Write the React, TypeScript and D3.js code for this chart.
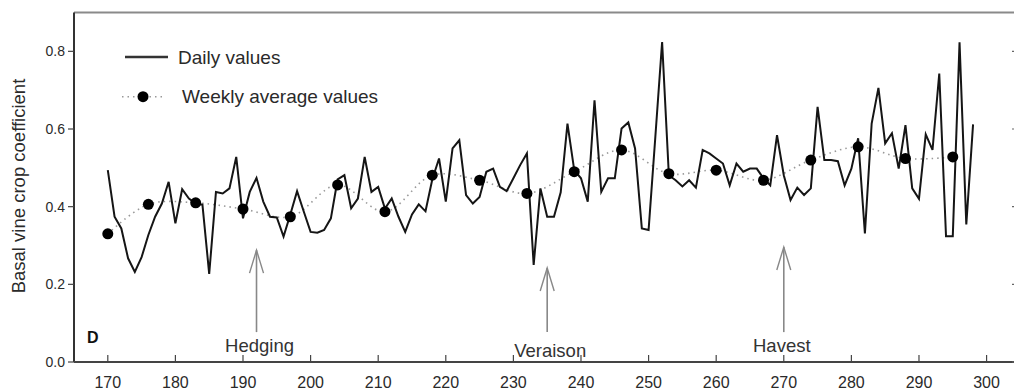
import React from "react";
import * as d3 from "d3";

const dailyStartDay = 170;
const dailyValues = [
  0.494, 0.374, 0.344, 0.267, 0.232, 0.27, 0.327, 0.374, 0.408, 0.464,
  0.357, 0.445, 0.421, 0.408, 0.405, 0.227, 0.438, 0.434, 0.447, 0.528,
  0.37, 0.438, 0.474, 0.413, 0.374, 0.372, 0.323, 0.38, 0.44, 0.387,
  0.335, 0.333, 0.34, 0.37, 0.47, 0.481, 0.396, 0.421, 0.528, 0.438,
  0.451, 0.395, 0.421, 0.374, 0.335, 0.38, 0.406, 0.388, 0.47, 0.524,
  0.413, 0.55, 0.571, 0.43, 0.408, 0.425, 0.49, 0.498, 0.451, 0.44,
  0.473, 0.507, 0.537, 0.25, 0.447, 0.374, 0.374, 0.437, 0.614, 0.494,
  0.473, 0.413, 0.674, 0.438, 0.473, 0.473, 0.601, 0.617, 0.55, 0.344,
  0.34, 0.58, 0.824, 0.481, 0.468, 0.452, 0.468, 0.449, 0.546, 0.537,
  0.524, 0.511, 0.455, 0.511, 0.49, 0.498, 0.498, 0.473, 0.455, 0.584,
  0.481, 0.417, 0.449, 0.43, 0.447, 0.657, 0.52, 0.52, 0.517, 0.455,
  0.498, 0.576, 0.331, 0.614, 0.706, 0.563, 0.589, 0.498, 0.61, 0.447,
  0.42, 0.586, 0.546, 0.743, 0.324, 0.324, 0.823, 0.354, 0.612,
];

const weeklyDays = [170, 176, 183, 190, 197, 204, 211, 218, 225, 232, 239, 246, 253, 260, 267, 274, 281, 288, 295];
const weeklyValues = [0.33, 0.406, 0.41, 0.394, 0.374, 0.456, 0.387, 0.481, 0.468, 0.434, 0.49, 0.546, 0.485, 0.494, 0.468, 0.52, 0.554, 0.524, 0.528];

const xTicks = [170, 180, 190, 200, 210, 220, 230, 240, 250, 260, 270, 280, 290, 300];
const yTicks = [0.0, 0.2, 0.4, 0.6, 0.8];

const eventLabels = ["Hedging", "Veraison", "Havest"];
const eventDays = [192, 235, 270];
const eventTips = [0.288, 0.242, 0.296];
const eventBase = 0.077;

const W = 1014;
const H = 392;
const left = 74;
const right = 1017;
const top = 12.5;
const bottom = 362;

export default function App() {
  const x = d3.scaleLinear().domain([165, 304.5]).range([left, right]);
  const y = d3.scaleLinear().domain([0, 0.9]).range([bottom, top]);

  const daily = dailyValues.map((v, i) => ({ d: dailyStartDay + i, v }));
  const weekly = weeklyDays.map((d, i) => ({ d, v: weeklyValues[i] }));

  const dailyLine = d3
    .line<{ d: number; v: number }>()
    .x((p) => x(p.d))
    .y((p) => y(p.v));
  const weeklyLine = d3
    .line<{ d: number; v: number }>()
    .x((p) => x(p.d))
    .y((p) => y(p.v))
    .curve(d3.curveCatmullRom);

  const font = "'Liberation Sans', Arial, Helvetica, sans-serif";
  const textColor = "#2a2a2a";

  return (
    <svg
      width={W}
      height={H}
      style={{ position: "absolute", left: 0, top: 0, background: "#fff" }}
      fontFamily={font}
    >
      <rect x={0} y={0} width={W} height={H} fill="#fff" />

      {/* frame */}
      <line x1={left} x2={W} y1={top} y2={top} stroke="#8a8a8a" strokeWidth={2.2} />
      <line x1={left} x2={left} y1={top} y2={bottom} stroke="#333" strokeWidth={2} />
      <line x1={left} x2={W} y1={bottom} y2={bottom} stroke="#444" strokeWidth={2} />
      <line x1={right} x2={right} y1={top} y2={bottom} stroke="#444" strokeWidth={2} />

      {/* y ticks */}
      {yTicks.map((t) => (
        <g key={"y" + t}>
          <line x1={left - 6} x2={left} y1={y(t)} y2={y(t)} stroke="#444" strokeWidth={1.2} />
          <line x1={right - 5} x2={right} y1={y(t)} y2={y(t)} stroke="#666" strokeWidth={1.2} />
          <text x={left - 9} y={y(t)} dy="0.35em" textAnchor="end" fontSize={14} fill={textColor}>
            {t.toFixed(1)}
          </text>
        </g>
      ))}

      {/* x ticks */}
      {xTicks.map((t) => (
        <g key={"x" + t}>
          <line x1={x(t)} x2={x(t)} y1={bottom} y2={bottom - 7} stroke="#444" strokeWidth={1.2} />
          <text x={x(t)} y={388} textAnchor="middle" fontSize={16} fill={textColor}>
            {t}
          </text>
        </g>
      ))}

      {/* y label */}
      <text
        transform={`translate(25,186) rotate(-90)`}
        textAnchor="middle"
        fontSize={18.5}
        fill={textColor}
      >
        Basal vine crop coefficient
      </text>

      {/* panel letter */}
      <text x={87} y={343} fontSize={16} fontWeight="bold" fill="#111">
        D
      </text>

      {/* weekly dotted line */}
      <path d={weeklyLine(weekly) || ""} fill="none" stroke="#999" strokeWidth={1.6} strokeDasharray="1.5 4" />

      {/* daily line */}
      <path d={dailyLine(daily) || ""} fill="none" stroke="#151515" strokeWidth={2} strokeLinejoin="miter" />

      {/* weekly dots */}
      {weekly.map((p) => (
        <circle key={"w" + p.d} cx={x(p.d)} cy={y(p.v)} r={5.5} fill="#000" />
      ))}

      {/* events */}
      {eventLabels.map((lab, i) => {
        const ex = x(eventDays[i]);
        const ty = y(eventTips[i]);
        const by = y(eventBase);
        return (
          <g key={lab}>
            <line x1={ex} x2={ex} y1={ty} y2={by} stroke="#888" strokeWidth={1.6} />
            <polyline
              points={`${ex - 7},${ty + 23} ${ex},${ty} ${ex + 7},${ty + 23}`}
              fill="none"
              stroke="#888"
              strokeWidth={1.4}
            />
            <text
              x={ex + (i === 2 ? -2 : 3)}
              y={i === 1 ? 356.5 : 351.5}
              textAnchor="middle"
              fontSize={18.5}
              fill="#333"
            >
              {lab}
            </text>
          </g>
        );
      })}

      {/* legend */}
      <line x1={125} x2={168} y1={57} y2={57} stroke="#333" strokeWidth={2.5} />
      <text x={178} y={64} fontSize={19} fill={textColor}>
        Daily values
      </text>
      <line x1={122} x2={164} y1={96.7} y2={96.7} stroke="#999" strokeWidth={1.6} strokeDasharray="1.5 4" />
      <circle cx={143} cy={96.7} r={5.5} fill="#000" />
      <text x={182} y={103.3} fontSize={19} fill={textColor}>
        Weekly average values
      </text>
    </svg>
  );
}
